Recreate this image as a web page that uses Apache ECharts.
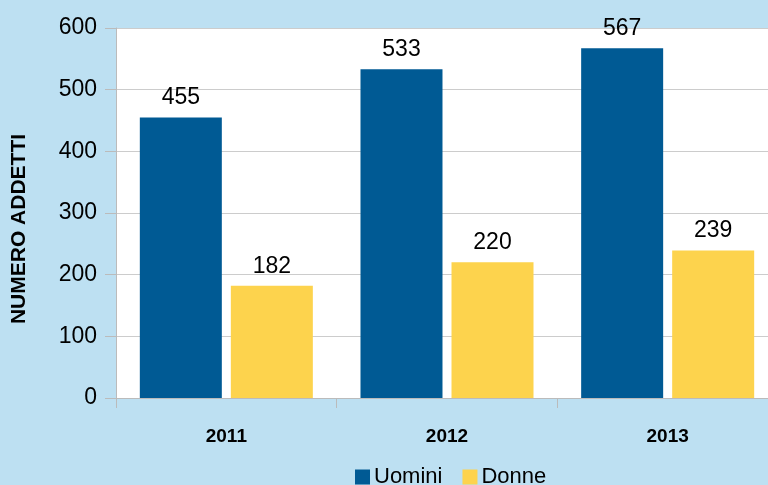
<!DOCTYPE html>
<html><head><meta charset="utf-8">
<script src="https://cdn.jsdelivr.net/npm/echarts@6/dist/echarts.min.js"></script>
<style>html,body{margin:0;padding:0;background:#bde0f2;overflow:hidden;width:768px;height:485px}#c{width:778px;height:485px}</style>
</head><body><div id="c"></div>
<script>
var categories = ['2011', '2012', '2013'];
var uomini = [455, 533, 567];
var donne = [182, 220, 239];
var seriesNames = ['Uomini', 'Donne'];
var yAxisTitle = 'NUMERO ADDETTI';
var FONT = "'Liberation Sans Narrow','Arial Narrow','Liberation Sans',sans-serif";
var chart = echarts.init(document.getElementById('c'));
chart.setOption({
  backgroundColor: '#bde0f2',
  animation: false,
  textStyle: {fontFamily: FONT},
  grid: {left: 116, top: 28, height: 370, width: 662, containLabel: false, show: true, backgroundColor: '#ffffff', borderWidth: 0},
  legend: {
    data: seriesNames, bottom: -8, left: 350, itemWidth: 15, itemHeight: 15, itemGap: 20,
    icon: 'rect', textStyle: {fontFamily: FONT, fontSize: 22, color: '#000', padding: [0,0,0,-1]}
  },
  graphic: [{
    type: 'text', x: 19, y: 229, rotation: Math.PI / 2,
    style: {text: yAxisTitle, x: 0, y: 0, align: 'center', verticalAlign: 'middle',
            font: "bold 21px 'Liberation Sans Narrow','Liberation Sans',sans-serif", fill: '#000'}
  }],
  xAxis: {
    type: 'category', data: categories,
    axisLine: {show: true, lineStyle: {color: '#bbbbbb', width: 1}},
    axisTick: {show: true, length: 10, lineStyle: {color: '#bbbbbb'}},
    axisLabel: {fontFamily: FONT, fontSize: 19, fontWeight: 'bold', color: '#000', margin: 29}
  },
  yAxis: {
    type: 'value', min: 0, max: 600, interval: 100,
    axisLine: {show: true, lineStyle: {color: '#bbbbbb'}},
    axisTick: {show: true, length: 11, lineStyle: {color: '#bbbbbb'}},
    splitLine: {show: true, lineStyle: {color: '#cccccc', width: 1}},
    axisLabel: {fontFamily: FONT, fontSize: 23, color: '#000', margin: 19}
  },
  series: [
    {name: seriesNames[0], type: 'bar', data: uomini, barWidth: 82, barGap: '11%',
     itemStyle: {color: '#005a94'},
     label: {show: true, position: 'top', distance: 8, fontFamily: FONT, fontSize: 23, color: '#000'}},
    {name: seriesNames[1], type: 'bar', data: donne, barWidth: 82,
     itemStyle: {color: '#fdd34d'},
     label: {show: true, position: 'top', distance: 8, fontFamily: FONT, fontSize: 23, color: '#000'}}
  ]
});
</script></body></html>
